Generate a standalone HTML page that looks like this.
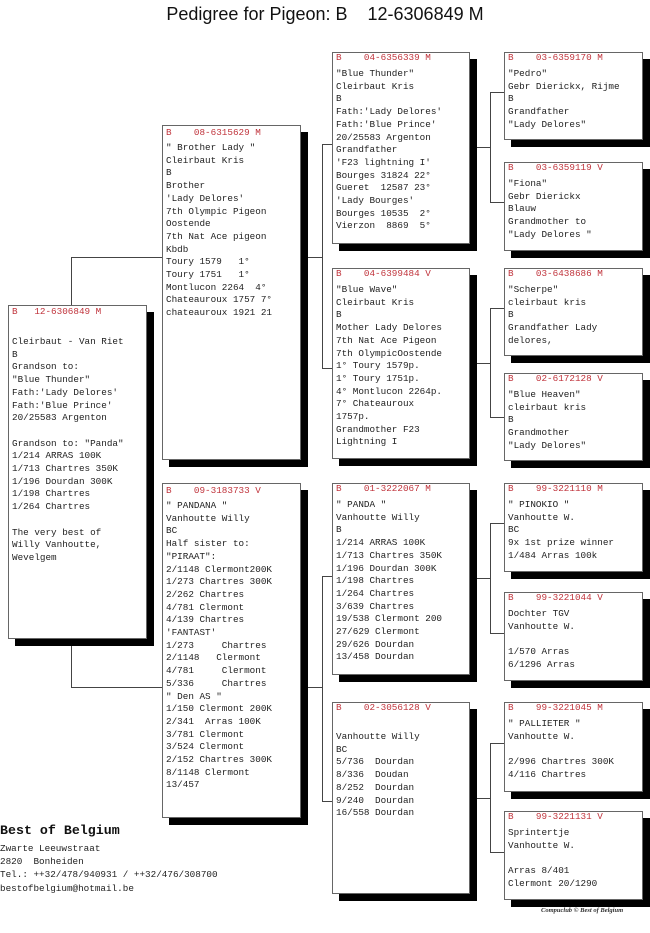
<!DOCTYPE html>
<html><head><meta charset="utf-8"><style>
html,body{margin:0;padding:0;background:#fff;width:650px;height:933px;overflow:hidden;position:relative}
.t{position:absolute;left:0;width:650px;top:4px;text-align:center;font:18px "Liberation Sans",sans-serif;color:#111;white-space:pre}
.b{position:absolute;border:1px solid #666;background:#fff;box-shadow:7px 7px 0 #000}
.h,.p{position:absolute;left:3px;margin:0;font:9.3px/12.7px "Liberation Mono",monospace;white-space:pre;color:#222}
.h{color:#c0343c}
.l{position:absolute;background:#444}
.f{position:absolute;left:0;font:9.3px/13.2px "Liberation Mono",monospace;white-space:pre;color:#222}
</style></head><body>
<div class="t">Pedigree for Pigeon: B    12-6306849 M</div>

<!-- connectors -->
<div class="l" style="left:71px;top:257px;width:1px;height:48px"></div>
<div class="l" style="left:71px;top:257px;width:91px;height:1px"></div>
<div class="l" style="left:71px;top:644px;width:1px;height:43px"></div>
<div class="l" style="left:71px;top:687px;width:91px;height:1px"></div>

<div class="l" style="left:307px;top:257px;width:15px;height:1px"></div>
<div class="l" style="left:322px;top:144px;width:1px;height:224px"></div>
<div class="l" style="left:322px;top:144px;width:10px;height:1px"></div>
<div class="l" style="left:322px;top:368px;width:10px;height:1px"></div>

<div class="l" style="left:307px;top:687px;width:15px;height:1px"></div>
<div class="l" style="left:322px;top:576px;width:1px;height:225px"></div>
<div class="l" style="left:322px;top:576px;width:10px;height:1px"></div>
<div class="l" style="left:322px;top:801px;width:10px;height:1px"></div>

<div class="l" style="left:476px;top:147px;width:14px;height:1px"></div>
<div class="l" style="left:490px;top:92px;width:1px;height:110px"></div>
<div class="l" style="left:490px;top:92px;width:14px;height:1px"></div>
<div class="l" style="left:490px;top:202px;width:14px;height:1px"></div>

<div class="l" style="left:476px;top:363px;width:14px;height:1px"></div>
<div class="l" style="left:490px;top:308px;width:1px;height:109px"></div>
<div class="l" style="left:490px;top:308px;width:14px;height:1px"></div>
<div class="l" style="left:490px;top:417px;width:14px;height:1px"></div>

<div class="l" style="left:476px;top:578px;width:14px;height:1px"></div>
<div class="l" style="left:490px;top:523px;width:1px;height:110px"></div>
<div class="l" style="left:490px;top:523px;width:14px;height:1px"></div>
<div class="l" style="left:490px;top:633px;width:14px;height:1px"></div>

<div class="l" style="left:476px;top:798px;width:14px;height:1px"></div>
<div class="l" style="left:490px;top:743px;width:1px;height:109px"></div>
<div class="l" style="left:490px;top:743px;width:14px;height:1px"></div>
<div class="l" style="left:490px;top:852px;width:14px;height:1px"></div>

<!-- subject -->
<div class="b" style="left:8px;top:305px;width:137px;height:332px">
<div class="h" style="top:0px">B   12-6306849 M</div>
<pre class="p" style="top:30px">Cleirbaut - Van Riet
B
Grandson to:
"Blue Thunder"
Fath:'Lady Delores'
Fath:'Blue Prince'
20/25583 Argenton

Grandson to: "Panda"
1/214 ARRAS 100K
1/713 Chartres 350K
1/196 Dourdan 300K
1/198 Chartres
1/264 Chartres

The very best of
Willy Vanhoutte,
Wevelgem</pre></div>

<!-- sire -->
<div class="b" style="left:162px;top:125px;width:137px;height:333px">
<div class="h" style="top:1px">B    08-6315629 M</div>
<pre class="p" style="top:16px">" Brother Lady "
Cleirbaut Kris
B
Brother
'Lady Delores'
7th Olympic Pigeon
Oostende
7th Nat Ace pigeon
Kbdb
Toury 1579   1°
Toury 1751   1°
Montlucon 2264  4°
Chateauroux 1757 7°
chateauroux 1921 21</pre></div>

<!-- dam -->
<div class="b" style="left:162px;top:483px;width:137px;height:333px">
<div class="h" style="top:1px">B    09-3183733 V</div>
<pre class="p" style="top:16px">" PANDANA "
Vanhoutte Willy
BC
Half sister to:
"PIRAAT":
2/1148 Clermont200K
1/273 Chartres 300K
2/262 Chartres
4/781 Clermont
4/139 Chartres
'FANTAST'
1/273     Chartres
2/1148   Clermont
4/781     Clermont
5/336     Chartres
" Den AS "
1/150 Clermont 200K
2/341  Arras 100K
3/781 Clermont
3/524 Clermont
2/152 Chartres 300K
8/1148 Clermont
13/457</pre></div>

<!-- gen 3 -->
<div class="b" style="left:332px;top:52px;width:136px;height:190px">
<div class="h" style="top:-1px">B    04-6356339 M</div>
<pre class="p" style="top:15px">"Blue Thunder"
Cleirbaut Kris
B
Fath:'Lady Delores'
Fath:'Blue Prince'
20/25583 Argenton
Grandfather
'F23 lightning I'
Bourges 31824 22°
Gueret  12587 23°
'Lady Bourges'
Bourges 10535  2°
Vierzon  8869  5°</pre></div>

<div class="b" style="left:332px;top:268px;width:136px;height:189px">
<div class="h" style="top:-1px">B    04-6399484 V</div>
<pre class="p" style="top:15px">"Blue Wave"
Cleirbaut Kris
B
Mother Lady Delores
7th Nat Ace Pigeon
7th OlympicOostende
1° Toury 1579p.
1° Toury 1751p.
4° Montlucon 2264p.
7° Chateauroux
1757p.
Grandmother F23
Lightning I</pre></div>

<div class="b" style="left:332px;top:483px;width:136px;height:190px">
<div class="h" style="top:-1px">B    01-3222067 M</div>
<pre class="p" style="top:15px">" PANDA "
Vanhoutte Willy
B
1/214 ARRAS 100K
1/713 Chartres 350K
1/196 Dourdan 300K
1/198 Chartres
1/264 Chartres
3/639 Chartres
19/538 Clermont 200
27/629 Clermont
29/626 Dourdan
13/458 Dourdan</pre></div>

<div class="b" style="left:332px;top:702px;width:136px;height:190px">
<div class="h" style="top:-1px">B    02-3056128 V</div>
<pre class="p" style="top:28px">Vanhoutte Willy
BC
5/736  Dourdan
8/336  Doudan
8/252  Dourdan
9/240  Dourdan
16/558 Dourdan</pre></div>

<!-- gen 4 -->
<div class="b" style="left:504px;top:52px;width:137px;height:86px">
<div class="h" style="top:-1px">B    03-6359170 M</div>
<pre class="p" style="top:15px">"Pedro"
Gebr Dierickx, Rijme
B
Grandfather
"Lady Delores"</pre></div>

<div class="b" style="left:504px;top:162px;width:137px;height:87px">
<div class="h" style="top:-1px">B    03-6359119 V</div>
<pre class="p" style="top:15px">"Fiona"
Gebr Dierickx
Blauw
Grandmother to
"Lady Delores "</pre></div>

<div class="b" style="left:504px;top:268px;width:137px;height:86px">
<div class="h" style="top:-1px">B    03-6438686 M</div>
<pre class="p" style="top:15px">"Scherpe"
cleirbaut kris
B
Grandfather Lady
delores,</pre></div>

<div class="b" style="left:504px;top:373px;width:137px;height:86px">
<div class="h" style="top:-1px">B    02-6172128 V</div>
<pre class="p" style="top:15px">"Blue Heaven"
cleirbaut kris
B
Grandmother
"Lady Delores"</pre></div>

<div class="b" style="left:504px;top:483px;width:137px;height:87px">
<div class="h" style="top:-1px">B    99-3221110 M</div>
<pre class="p" style="top:15px">" PINOKIO "
Vanhoutte W.
BC
9x 1st prize winner
1/484 Arras 100k</pre></div>

<div class="b" style="left:504px;top:592px;width:137px;height:87px">
<div class="h" style="top:-1px">B    99-3221044 V</div>
<pre class="p" style="top:15px">Dochter TGV
Vanhoutte W.

1/570 Arras
6/1296 Arras</pre></div>

<div class="b" style="left:504px;top:702px;width:137px;height:88px">
<div class="h" style="top:-1px">B    99-3221045 M</div>
<pre class="p" style="top:15px">" PALLIETER "
Vanhoutte W.

2/996 Chartres 300K
4/116 Chartres</pre></div>

<div class="b" style="left:504px;top:811px;width:137px;height:87px">
<div class="h" style="top:-1px">B    99-3221131 V</div>
<pre class="p" style="top:15px">Sprintertje
Vanhoutte W.

Arras 8/401
Clermont 20/1290</pre></div>

<!-- footer -->
<div class="f" style="top:822px;font:bold 13.3px/18px 'Liberation Mono',monospace;color:#111">Best of Belgium</div>
<div class="f" style="top:842px">Zwarte Leeuwstraat
2820  Bonheiden
Tel.: ++32/478/940931 / ++32/476/308700
bestofbelgium@hotmail.be</div>
<div style="position:absolute;left:541px;top:907px;font:italic bold 6.5px 'Liberation Serif',serif;color:#333;white-space:pre">Compuclub © Best of Belgium</div>
</body></html>
